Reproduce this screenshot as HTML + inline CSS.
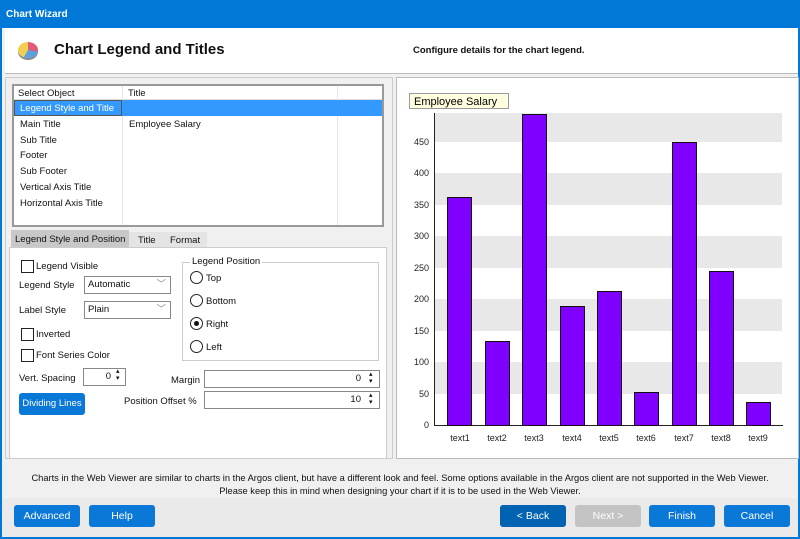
<!DOCTYPE html>
<html><head><style>
*{margin:0;padding:0;box-sizing:border-box}
body{width:800px;height:539px;overflow:hidden;font-family:"Liberation Sans",sans-serif;font-size:9.5px;color:#111;background:#f0f0f0;position:relative}
.a{position:absolute}
.btn{position:absolute;background:#0a78d7;color:#fff;border-radius:3px;text-align:center;font-size:10.5px;line-height:22px;height:22px;white-space:nowrap}
.cb{position:absolute;width:13px;height:13px;border:1.5px solid #222;background:#fff}
.rd{position:absolute;width:13px;height:13px;border:1.5px solid #222;border-radius:50%;background:#fff}
.inp{position:absolute;background:#fff;border:1.5px solid #888;height:18px;font-size:9.5px;line-height:15px}
.t{position:absolute;white-space:nowrap;font-size:9.5px}
</style></head><body>
<div class="a" style="left:0;top:0;width:800px;height:28px;background:#0078d7"></div>
<div class="t" style="left:6px;top:9px;color:#fff;font-weight:bold;font-size:10px">Chart Wizard</div>
<div class="a" style="left:0;top:28px;width:2px;height:511px;background:#0078d7"></div>
<div class="a" style="right:0;top:28px;width:2px;height:511px;background:#0078d7"></div>
<div class="a" style="left:0;bottom:0;width:800px;height:2px;background:#0078d7"></div>
<div class="a" style="left:5px;top:28px;width:793px;height:46px;background:#fff;border-bottom:1px solid #bbb"></div>
<div class="a" style="left:18px;top:42px;width:20px;height:16px;border-radius:50%;background:conic-gradient(#e05a7a 0 100deg,#5aa0e0 100deg 210deg,#f0d050 210deg 360deg);box-shadow:0 2px 0 #888"></div>
<div class="t" style="left:54px;top:41px;font-weight:bold;font-size:15px">Chart Legend and Titles</div>
<div class="t" style="left:413px;top:45px;font-weight:bold;font-size:9.5px">Configure details for the chart legend.</div>
<!-- left panel -->
<div class="a" style="left:5px;top:77px;width:388px;height:382px;background:#f0f0f0;border:1px solid #ccc"></div>
<div class="a" style="left:12px;top:84px;width:372px;height:143px;background:#fff;border:2px solid #999"></div>
<div class="a" style="left:14px;top:86px;width:368px;height:14px;border-bottom:1px solid #ddd"></div>
<div class="a" style="left:122px;top:86px;width:1px;height:139px;background:#e6e6e6"></div>
<div class="a" style="left:337px;top:86px;width:1px;height:139px;background:#e6e6e6"></div>
<div class="t" style="left:18px;top:88px">Select Object</div>
<div class="t" style="left:128px;top:88px">Title</div>
<div class="a" style="left:14px;top:100px;width:368px;height:16px;background:#3399ff"></div>
<div class="a" style="left:14px;top:100px;width:108px;height:16px;border:1px solid #555"></div>
<div class="t" style="left:20px;top:103px;color:#fff">Legend Style and Title</div>
<div class="t" style="left:20px;top:119px">Main Title</div>
<div class="t" style="left:129px;top:119px">Employee Salary</div>
<div class="t" style="left:20px;top:135px">Sub Title</div>
<div class="t" style="left:20px;top:150px">Footer</div>
<div class="t" style="left:20px;top:166px">Sub Footer</div>
<div class="t" style="left:20px;top:182px">Vertical Axis Title</div>
<div class="t" style="left:20px;top:198px">Horizontal Axis Title</div>
<div class="a" style="left:11px;top:230px;width:118px;height:18px;background:#c8c8c8"></div>
<div class="a" style="left:129px;top:232px;width:78px;height:16px;background:#e4e4e4"></div>
<div class="t" style="left:15px;top:234px">Legend Style and Position</div>
<div class="t" style="left:138px;top:235px">Title</div>
<div class="t" style="left:170px;top:235px">Format</div>
<div class="a" style="left:9px;top:247px;width:378px;height:212px;background:#fff;border:1px solid #ccc"></div>
<div class="cb" style="left:21px;top:260px"></div><div class="t" style="left:36px;top:261px">Legend Visible</div>
<div class="t" style="left:19px;top:280px">Legend Style</div>
<div class="inp" style="left:84px;top:276px;width:87px;padding-left:3px">Automatic<span style="position:absolute;right:4px;color:#888">﹀</span></div>
<div class="t" style="left:19px;top:305px">Label Style</div>
<div class="inp" style="left:84px;top:301px;width:87px;padding-left:3px">Plain<span style="position:absolute;right:4px;color:#888">﹀</span></div>
<div class="cb" style="left:21px;top:328px"></div><div class="t" style="left:36px;top:329px">Inverted</div>
<div class="cb" style="left:21px;top:349px"></div><div class="t" style="left:36px;top:350px">Font Series Color</div>
<div class="t" style="left:19px;top:373px">Vert. Spacing</div>
<div class="inp" style="left:83px;top:368px;width:43px;text-align:right;padding-right:14px">0</div>
<div class="t" style="left:116px;top:368px;font-size:7px;line-height:7px">▴<br>▾</div>
<div class="btn" style="left:19px;top:393px;width:66px;font-size:9.5px">Dividing Lines</div>
<div class="a" style="left:182px;top:262px;width:197px;height:99px;border:1px solid #ccc"></div>
<div class="t" style="left:190px;top:256px;background:#fff;padding:0 2px">Legend Position</div>
<div class="rd" style="left:190px;top:271px"></div><div class="t" style="left:206px;top:273px">Top</div>
<div class="rd" style="left:190px;top:294px"></div><div class="t" style="left:206px;top:296px">Bottom</div>
<div class="rd" style="left:190px;top:317px"><div class="a" style="left:2.5px;top:2.5px;width:5px;height:5px;border-radius:50%;background:#111"></div></div><div class="t" style="left:206px;top:319px">Right</div>
<div class="rd" style="left:190px;top:340px"></div><div class="t" style="left:206px;top:342px">Left</div>
<div class="t" style="left:171px;top:375px">Margin</div>
<div class="inp" style="left:204px;top:370px;width:176px;text-align:right;padding-right:18px">0</div>
<div class="t" style="left:369px;top:371px;font-size:7px;line-height:7px">▴<br>▾</div>
<div class="t" style="left:124px;top:396px">Position Offset %</div>
<div class="inp" style="left:204px;top:391px;width:176px;text-align:right;padding-right:18px">10</div>
<div class="t" style="left:369px;top:392px;font-size:7px;line-height:7px">▴<br>▾</div>
<!-- chart -->
<div class="a" style="left:396px;top:77px;width:403px;height:382px;background:#fff;border:1px solid #bbb"></div>
<svg class="a" style="left:0;top:0" width="800" height="539" font-family="Liberation Sans" font-size="9">
<g fill="#e8e8e8">
<rect x="435" y="113" width="347" height="29"/><rect x="435" y="173" width="347" height="32"/><rect x="435" y="236" width="347" height="32"/><rect x="435" y="299" width="347" height="32"/><rect x="435" y="362" width="347" height="32"/>
</g>
<rect x="409.5" y="93.5" width="99" height="15" fill="#ffffe0" stroke="#999"/>
<text x="414" y="105" font-size="11">Employee Salary</text>
<line x1="434.5" y1="113" x2="434.5" y2="426" stroke="#222"/>
<line x1="434" y1="425.5" x2="783" y2="425.5" stroke="#222"/>
<g text-anchor="end" fill="#222">
<text x="429" y="428">0</text><text x="429" y="397">50</text><text x="429" y="365">100</text><text x="429" y="334">150</text><text x="429" y="302">200</text><text x="429" y="271">250</text><text x="429" y="239">300</text><text x="429" y="208">350</text><text x="429" y="176">400</text><text x="429" y="145">450</text>
</g>
<g fill="#8000ff" stroke="#111" stroke-width="1">
<rect x="447.5" y="197.5" width="24" height="228"/>
<rect x="485.5" y="341.5" width="24" height="84"/>
<rect x="522.5" y="114.5" width="24" height="311"/>
<rect x="560.5" y="306.5" width="24" height="119"/>
<rect x="597.5" y="291.5" width="24" height="134"/>
<rect x="634.5" y="392.5" width="24" height="33"/>
<rect x="672.5" y="142.5" width="24" height="283"/>
<rect x="709.5" y="271.5" width="24" height="154"/>
<rect x="746.5" y="402.5" width="24" height="23"/>
</g>
<g text-anchor="middle" fill="#222">
<text x="460" y="441">text1</text><text x="497" y="441">text2</text><text x="534" y="441">text3</text><text x="572" y="441">text4</text><text x="609" y="441">text5</text><text x="646" y="441">text6</text><text x="684" y="441">text7</text><text x="721" y="441">text8</text><text x="758" y="441">text9</text>
</g>
</svg>
<div class="t" style="left:0;width:800px;top:473px;text-align:center;font-size:9.3px">Charts in the Web Viewer are similar to charts in the Argos client, but have a different look and feel. Some options available in the Argos client are not supported in the Web Viewer.</div>
<div class="t" style="left:0;width:800px;top:486px;text-align:center;font-size:9.3px">Please keep this in mind when designing your chart if it is to be used in the Web Viewer.</div>
<div class="a" style="left:2px;top:498px;width:796px;height:39px;background:#eaeaea"></div>
<div class="btn" style="left:14px;top:505px;width:66px">Advanced</div>
<div class="btn" style="left:89px;top:505px;width:66px">Help</div>
<div class="btn" style="left:500px;top:505px;width:66px;background:#0063b1">&lt; Back</div>
<div class="btn" style="left:575px;top:505px;width:66px;background:#c4c4c4">Next &gt;</div>
<div class="btn" style="left:649px;top:505px;width:66px">Finish</div>
<div class="btn" style="left:724px;top:505px;width:66px">Cancel</div>
</body></html>
